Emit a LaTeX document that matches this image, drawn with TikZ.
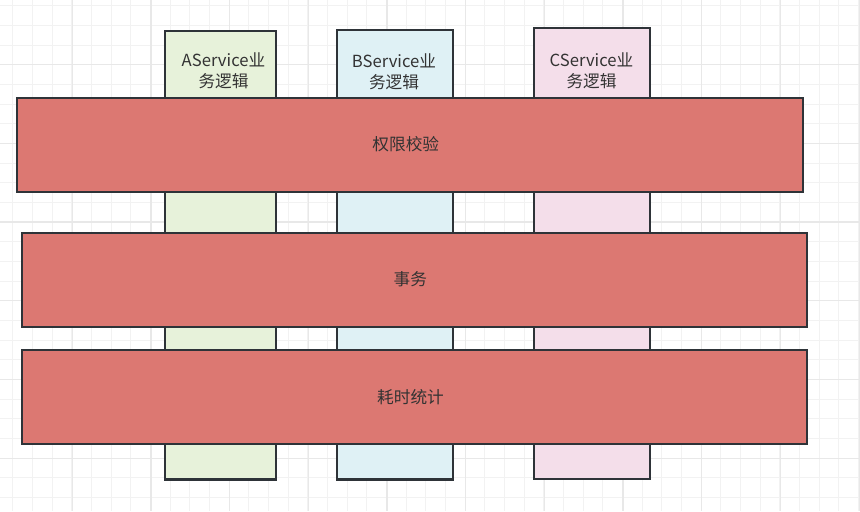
\documentclass[tikz,border=0pt]{standalone}
\usepackage{fontspec}
\setmainfont{Noto Sans CJK SC}
\definecolor{gridlight}{HTML}{F2F2F2}
\definecolor{griddark}{HTML}{E8E8E8}
\definecolor{edgec}{HTML}{2E3338}
\definecolor{txtc}{HTML}{333333}
\definecolor{afill}{HTML}{E7F2DA}
\definecolor{bfill}{HTML}{DFF1F5}
\definecolor{cfill}{HTML}{F4DEEA}
\definecolor{redfill}{HTML}{DC7872}
\tikzset{
  svcbox/.style={draw=edgec, line width=1.6pt, rectangle, inner sep=0pt},
  layerbox/.style={draw=edgec, fill=redfill, line width=1.6pt, rectangle, inner sep=0pt},
  lbl/.style={text=txtc, font=\fontsize{12.5}{15.75}\selectfont, align=center, inner sep=0pt},
}
\begin{document}
\begin{tikzpicture}[x=0.75pt, y=-0.75pt]
\useasboundingbox (0,0) rectangle (860,511);
\fill[white] (0,0) rectangle (860,511);
% grid
\foreach \i in {0,...,43} {
  \pgfmathsetmacro{\gx}{12.7+\i*19.67}
  \draw[gridlight, line width=0.8pt] (\gx,0) -- (\gx,511);
}
\foreach \i in {0,...,26} {
  \pgfmathsetmacro{\gy}{5.7+\i*19.67}
  \draw[gridlight, line width=0.8pt] (0,\gy) -- (860,\gy);
}
\foreach \i in {0,...,10} {
  \pgfmathsetmacro{\gx}{72.3+\i*78.68}
  \draw[griddark, line width=0.9pt] (\gx,0) -- (\gx,511);
}
\foreach \i in {0,...,6} {
  \pgfmathsetmacro{\gy}{64.7+\i*78.68}
  \draw[griddark, line width=0.9pt] (0,\gy) -- (860,\gy);
}
% service boxes
\node[svcbox, fill=afill, minimum width=111*0.75pt, minimum height=448.5*0.75pt] (a) at (220.5,255.25) {};
\node[svcbox, fill=bfill, minimum width=116.6*0.75pt, minimum height=449.2*0.75pt] (b) at (395,254.9) {};
\node[svcbox, fill=cfill, minimum width=115.9*0.75pt, minimum height=451.3*0.75pt] (c) at (592.25,253.65) {};
\node[lbl] (alab) at (223.5,71) {AService业\\务逻辑};
\node[lbl] (blab) at (394,71.5) {BService业\\务逻辑};
\node[lbl] (clab) at (591.5,70.5) {CService业\\务逻辑};
% layer boxes
\node[layerbox, minimum width=786.3*0.75pt, minimum height=93.4*0.75pt] (auth) at (410.15,145) {};
\node[layerbox, minimum width=785*0.75pt, minimum height=94*0.75pt] (tx) at (414.5,279.7) {};
\node[layerbox, minimum width=784.7*0.75pt, minimum height=93.7*0.75pt] (timing) at (414.35,396.85) {};
\node[lbl] (authlab) at (405.8,144.5) {权限校验};
\node[lbl] (txlab) at (410.3,279) {事务};
\node[lbl] (timinglab) at (410.5,397) {耗时统计};
\end{tikzpicture}
\end{document}
